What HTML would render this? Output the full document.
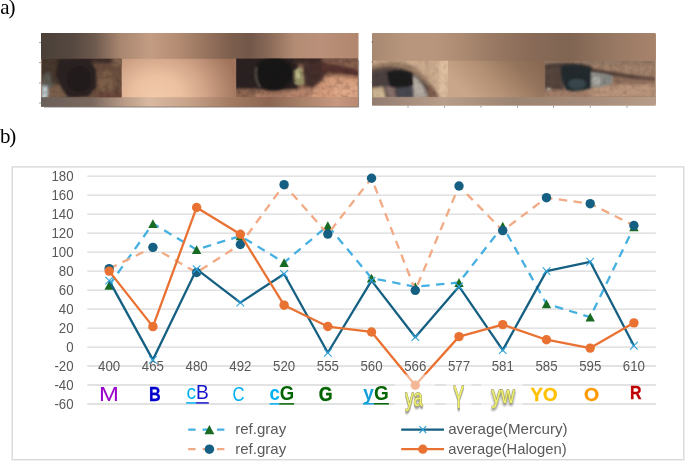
<!DOCTYPE html>
<html><head><meta charset="utf-8"><title>figure</title>
<style>
html,body{margin:0;padding:0;background:#fff;}
body{width:685px;height:461px;position:relative;overflow:hidden;}
.lab{position:absolute;left:-0.1px;letter-spacing:-1.1px;font-family:"Liberation Serif","DejaVu Serif",serif;font-size:21px;line-height:1;color:#000;white-space:nowrap;}
svg{position:absolute;left:0;top:0;}
svg text{font-family:"Liberation Sans","DejaVu Sans",sans-serif;}
</style></head><body>
<svg width="685" height="461" viewBox="0 0 685 461">
<defs>


<linearGradient id="p1top" x1="0" x2="1" y1="0" y2="0">
<stop offset="0" stop-color="#4a4038"/><stop offset="0.10" stop-color="#564840"/><stop offset="0.17" stop-color="#6e5a4e"/><stop offset="0.25" stop-color="#a8866f"/><stop offset="0.345" stop-color="#c39c83"/><stop offset="0.43" stop-color="#b48c73"/><stop offset="0.51" stop-color="#9a7660"/><stop offset="0.60" stop-color="#7c5e4c"/><stop offset="0.66" stop-color="#72584a"/><stop offset="0.72" stop-color="#8a6a58"/><stop offset="0.80" stop-color="#b48c74"/><stop offset="0.88" stop-color="#ba907a"/><stop offset="1" stop-color="#b2866e"/>
</linearGradient>
<linearGradient id="p1bot" x1="0" x2="1" y1="0" y2="0">
<stop offset="0" stop-color="#6a5f59"/><stop offset="0.16" stop-color="#7a685e"/><stop offset="0.26" stop-color="#b89a86"/><stop offset="0.34" stop-color="#d8b8a0"/><stop offset="0.46" stop-color="#c8a38a"/><stop offset="0.60" stop-color="#a27a62"/><stop offset="0.72" stop-color="#8c6652"/><stop offset="0.82" stop-color="#a88068"/><stop offset="0.93" stop-color="#c89880"/><stop offset="1" stop-color="#b88870"/>
</linearGradient>
<radialGradient id="p1mid" cx="0.31" cy="1.0" r="0.72" gradientTransform="translate(0,1) scale(1,2.6) translate(0,-1)">
<stop offset="0" stop-color="#f3cbaa"/><stop offset="0.3" stop-color="#ebc0a0"/><stop offset="0.6" stop-color="#cfa286"/><stop offset="0.85" stop-color="#b0846a"/><stop offset="1" stop-color="#a0745c"/>
</radialGradient>
<linearGradient id="p2top" x1="0" x2="1" y1="0" y2="0">
<stop offset="0" stop-color="#a88870"/><stop offset="0.12" stop-color="#b8967e"/><stop offset="0.22" stop-color="#b8957d"/><stop offset="0.32" stop-color="#ac8a72"/><stop offset="0.42" stop-color="#9a7a64"/><stop offset="0.56" stop-color="#886a57"/><stop offset="0.70" stop-color="#806553"/><stop offset="0.85" stop-color="#977862"/><stop offset="1" stop-color="#a8836c"/>
</linearGradient>
<linearGradient id="p2bot" x1="0" x2="1" y1="0" y2="0">
<stop offset="0" stop-color="#927c70"/><stop offset="0.25" stop-color="#b89e8a"/><stop offset="0.5" stop-color="#9c8472"/><stop offset="0.75" stop-color="#a48a78"/><stop offset="1" stop-color="#b89c8a"/>
</linearGradient>
<linearGradient id="p2mid" x1="0" x2="1" y1="0.35" y2="0">
<stop offset="0" stop-color="#c9a68a"/><stop offset="0.35" stop-color="#b39074"/><stop offset="0.7" stop-color="#94745c"/><stop offset="1" stop-color="#866650"/>
</linearGradient>
<filter id="b1" x="-50%" y="-50%" width="200%" height="200%"><feGaussianBlur stdDeviation="0.9"/></filter>
<filter id="b2" x="-50%" y="-50%" width="200%" height="200%"><feGaussianBlur stdDeviation="1.8"/></filter>
<linearGradient id="vlight" x1="0" x2="0" y1="0" y2="1"><stop offset="0" stop-color="#7a5038" stop-opacity="0.12"/><stop offset="1" stop-color="#fff" stop-opacity="0.06"/></linearGradient>
<filter id="b3" x="-50%" y="-50%" width="200%" height="200%"><feGaussianBlur stdDeviation="3.5"/></filter>
<filter id="grain" x="0" y="0" width="100%" height="100%" color-interpolation-filters="sRGB"><feTurbulence type="fractalNoise" baseFrequency="0.2" numOctaves="2" seed="3" result="n"/><feColorMatrix in="n" type="matrix" values="0 0 0 0 0.16  0 0 0 0 0.10  0 0 0 0 0.08  1.6 1.6 0 0 -1.35"/></filter>
<filter id="sh" x="-30%" y="-30%" width="160%" height="180%"><feGaussianBlur in="SourceAlpha" stdDeviation="1.1" result="b"/><feOffset in="b" dx="0.6" dy="1.6" result="o"/><feComponentTransfer in="o" result="s"><feFuncA type="linear" slope="0.45"/></feComponentTransfer><feMerge><feMergeNode in="s"/><feMergeNode in="SourceGraphic"/></feMerge></filter>
<clipPath id="e1"><rect x="41.8" y="58.8" width="79.8" height="38.4"/></clipPath>
<clipPath id="e2"><rect x="236.2" y="58.6" width="121.6" height="38.4"/></clipPath>
<clipPath id="e3"><rect x="372" y="60.8" width="76" height="36.4"/></clipPath>
<clipPath id="e4"><rect x="544.7" y="61" width="110.3" height="35.4"/></clipPath>
</defs>

<text transform="translate(0.3,13.75)" style="font-family:'Liberation Serif','DejaVu Serif',serif" font-size="21" letter-spacing="-1.1" fill="#000">a)</text>
<text transform="translate(-0.1,143.4)" style="font-family:'Liberation Serif','DejaVu Serif',serif" font-size="21" letter-spacing="-1.1" fill="#000">b)</text>
<g id="photo1">
<rect x="41" y="33" width="317.3" height="73.8" fill="#b08a72"/>
<rect x="41" y="33" width="317.3" height="26" fill="url(#p1top)"/>
<rect x="41" y="97" width="317.3" height="9.8" fill="url(#p1bot)"/>
<rect x="121.5" y="58.8" width="115" height="38.4" fill="url(#p1mid)"/>
<g clip-path="url(#e1)">
 <rect x="41" y="58" width="82" height="40" fill="#6b4f3f"/>
 <g filter="url(#b2)">
  <rect x="40" y="56" width="84" height="7" fill="#3c2e2b"/>
  <rect x="40" y="58" width="22" height="26" fill="#46372f"/>
  <path d="M42,76 L49,72 L54,86 L50,98 L42,98 Z" fill="#5e5c54"/>
  <rect x="40" y="86" width="7.5" height="13" fill="#c4d3d7"/>
  <path d="M48,88 L66,84 L72,98 L48,98 Z" fill="#7c604d"/>
  <ellipse cx="106" cy="82" rx="8" ry="11" fill="#7d5f4a"/>
  <rect x="112" y="57" width="12" height="9" fill="#7a5e4c"/>
  <rect x="96" y="92" width="26" height="7" fill="#6a4a3a"/>
 </g>
 <g filter="url(#b1)">
  <path d="M58.5,59 L89,58.5 L96,70 L96,87 L88.5,96 L68,97.5 L61,87 L56,74 Z" fill="#2b2123"/>
  <ellipse cx="79" cy="79" rx="12" ry="13" fill="#231b1d"/>
 </g>
 <rect x="41" y="58" width="82" height="40" filter="url(#grain)" opacity="0.22"/>
</g>
<g clip-path="url(#e2)">
 <rect x="236" y="58" width="123" height="40" fill="#8a6450"/>
 <g filter="url(#b2)">
  <rect x="234" y="56" width="64" height="32" fill="#30242520"/>
  <rect x="234" y="56" width="64" height="33" fill="#2c2122"/>
  <path d="M234,90 L252,90 L260,93 L296,92 L296,100 L234,100 Z" fill="#8c6651"/>
  <path d="M256,93 Q276,97 296,90 L330,84 L330,100 L256,100 Z" fill="#b5836a"/>
  <rect x="294" y="56" width="32" height="8" fill="#3a2927"/>
  <rect x="322" y="56" width="38" height="6.5" fill="#7c5849"/>
  <path d="M303,62 L322,62 L326,72 L322,82 L312,88 L305,86 Z" fill="#4a332f"/>
  <path d="M320,63 Q342,64 360,71 L360,77 Q340,72 322,73 Z" fill="#55332d"/>
  <path d="M326,77 Q344,75 360,78 L360,100 L310,100 L314,89 Z" fill="#d49c7c"/>
  <ellipse cx="346" cy="90" rx="14" ry="7" fill="#dfa888"/>
 </g>
 <g filter="url(#b1)">
  <ellipse cx="273.5" cy="74" rx="19.5" ry="16.5" fill="#191315"/>
  <path d="M256.5,67 Q253.5,78 260,87" stroke="#58524b" stroke-width="2" fill="none"/>
  <path d="M294,71 Q298,65 302.5,69 L304,83 Q299,87 294.5,84 Z" fill="#9a966a"/>
  <ellipse cx="298.4" cy="74.5" rx="2.2" ry="5" fill="#bcb888"/>
  <path d="M305,66v18M308.5,65v19M312,64v18M316,64v15M320,64v12" stroke="#3e2a27" stroke-width="1.6" opacity="0.7"/>
 </g>
 <rect x="236" y="58" width="123" height="40" filter="url(#grain)" opacity="0.22"/>
</g>
<path d="M39,42.6h2M39,62.6h2M39,83h2M39,103h2" stroke="#8a8a8a" stroke-width="0.8"/>
<path d="M358.6,60V107.1H44" stroke="#5a5450" stroke-width="0.8" fill="none" opacity="0.75"/>
</g>

<g id="photo2">
<rect x="372" y="33" width="283.8" height="72.4" rx="1.5" fill="#a08068"/>
<rect x="372" y="33" width="283.8" height="28" rx="1.5" fill="url(#p2top)"/>
<rect x="372" y="97" width="283.8" height="8.4" fill="url(#p2bot)"/>
<rect x="447.5" y="60.8" width="97.5" height="36.4" fill="url(#p2mid)"/>
<g clip-path="url(#e3)">
 <rect x="372" y="60" width="76" height="38" fill="#caa98d"/>
 <g filter="url(#b2)">
  <rect x="438" y="58" width="12" height="40" fill="#dcbd9e"/>
  <path d="M370,66 Q392,58 408,64 Q428,74 440,98 L370,98 Z" fill="#9a7e66"/>
  <path d="M370,70 Q394,62 412,72 Q430,84 437,98 L370,98 Z" fill="#5c4a42"/>
  <path d="M372,73 Q392,67 408,73 Q424,82 430,98 L372,98 Z" fill="#4c4140"/>
  <path d="M412,75 Q422,79 428,97 L413,98 Z" fill="#aaa299"/>
  <path d="M428,85 Q436,90 440,98 L428,98 Z" fill="#7b5b4d"/>
  <path d="M372,88 L383,87 L386,98 L372,98 Z" fill="#cdb692"/>
  <path d="M385,87 L394,86 L396,98 L388,98 Z" fill="#86706a"/>
  <path d="M396,86 L413,85 L414,98 L397,98 Z" fill="#46464f"/>
 </g>
 <g filter="url(#b1)">
  <path d="M387,72 Q400,68 412,73 L413,85 Q400,89 390,86 Z" fill="#1c1a1e"/>
  <path d="M414,78 Q420,82 424,94 L415,95 Z" fill="#b4aca2"/>
 </g>
 <rect x="372" y="60" width="76" height="38" filter="url(#grain)" opacity="0.1"/>
</g>
<g clip-path="url(#e4)">
 <rect x="544" y="60" width="112" height="38" fill="#a2826b"/>
 <g filter="url(#b2)">
  <rect x="544" y="59" width="112" height="6" fill="#937865"/>
  <rect x="544" y="90" width="60" height="8" fill="#a27e69"/>
  <path d="M590,88 L656,82 L656,98 L590,98 Z" fill="#ba957c"/>
  <path d="M544,64 Q570,60 592,66 L592,74 L544,76 Z" fill="#4b3d39"/>
  <rect x="544" y="68" width="20" height="22" fill="#54453e"/>
  <path d="M590,68 Q620,74 656,78 L656,81.5 Q620,81 592,76 Z" fill="#4a3732"/>
  <path d="M612,76 Q634,79 656,80 L656,84 Q634,85 612,84 Z" fill="#8f6e5c"/>
 </g>
 <g filter="url(#b1)">
  <path d="M561,66 Q576,62 591,68 L591,88 Q578,93 566,90 Q560,80 561,66 Z" fill="#23292d"/>
  <ellipse cx="577" cy="84" rx="9" ry="5.5" fill="#38464d"/>
  <path d="M591,72 Q604,72 613,76 L612,84 Q602,88 591,87 Z" fill="#8f908b"/>
  <ellipse cx="597" cy="80.5" rx="4" ry="5" fill="#aeaea7"/>
  <path d="M601,73v12M605,74v11M609,75v9" stroke="#5e5a56" stroke-width="1.2" opacity="0.6"/>
  <ellipse cx="548.8" cy="89.3" rx="2.4" ry="1.6" fill="#b8aa9a"/>
 </g>
 <rect x="544" y="60" width="112" height="38" filter="url(#grain)" opacity="0.14"/>
</g>
<path d="M408,106v1.6M444.5,106v1.6M481,106v1.6M517.5,106v1.6M553.5,106v1.6M590.3,106v1.6M627,106v1.6" stroke="#8a8a8a" stroke-width="0.9"/>
<path d="M371.5,42h1.5M371.5,62h1.5M371.5,82h1.5" stroke="#6a5a52" stroke-width="0.9"/>
</g>

<g id="chart">
<rect x="12.2" y="166.9" width="671.6" height="292.8" fill="#fff" stroke="#D9D9D9" stroke-width="1.4"/>

<line x1="87.3" x2="655.8" y1="404.02" y2="404.02" stroke="#D9D9D9" stroke-width="1.35"/>
<line x1="87.3" x2="655.8" y1="385.03" y2="385.03" stroke="#D9D9D9" stroke-width="1.35"/>
<line x1="87.3" x2="655.8" y1="366.04" y2="366.04" stroke="#D9D9D9" stroke-width="1.35"/>
<line x1="87.3" x2="655.8" y1="347.05" y2="347.05" stroke="#D9D9D9" stroke-width="1.35"/>
<line x1="87.3" x2="655.8" y1="328.06" y2="328.06" stroke="#D9D9D9" stroke-width="1.35"/>
<line x1="87.3" x2="655.8" y1="309.07" y2="309.07" stroke="#D9D9D9" stroke-width="1.35"/>
<line x1="87.3" x2="655.8" y1="290.08" y2="290.08" stroke="#D9D9D9" stroke-width="1.35"/>
<line x1="87.3" x2="655.8" y1="271.09" y2="271.09" stroke="#D9D9D9" stroke-width="1.35"/>
<line x1="87.3" x2="655.8" y1="252.10" y2="252.10" stroke="#D9D9D9" stroke-width="1.35"/>
<line x1="87.3" x2="655.8" y1="233.11" y2="233.11" stroke="#D9D9D9" stroke-width="1.35"/>
<line x1="87.3" x2="655.8" y1="214.12" y2="214.12" stroke="#D9D9D9" stroke-width="1.35"/>
<line x1="87.3" x2="655.8" y1="195.13" y2="195.13" stroke="#D9D9D9" stroke-width="1.35"/>
<line x1="87.3" x2="655.8" y1="176.14" y2="176.14" stroke="#D9D9D9" stroke-width="1.35"/>
<text transform="translate(73.6,408.82) scale(0.935,1)" text-anchor="end" font-size="14.2" fill="#595959">-60</text>
<text transform="translate(73.6,389.83) scale(0.935,1)" text-anchor="end" font-size="14.2" fill="#595959">-40</text>
<text transform="translate(73.6,370.84) scale(0.935,1)" text-anchor="end" font-size="14.2" fill="#595959">-20</text>
<text transform="translate(73.6,351.85) scale(0.935,1)" text-anchor="end" font-size="14.2" fill="#595959">0</text>
<text transform="translate(73.6,332.86) scale(0.935,1)" text-anchor="end" font-size="14.2" fill="#595959">20</text>
<text transform="translate(73.6,313.87) scale(0.935,1)" text-anchor="end" font-size="14.2" fill="#595959">40</text>
<text transform="translate(73.6,294.88) scale(0.935,1)" text-anchor="end" font-size="14.2" fill="#595959">60</text>
<text transform="translate(73.6,275.89) scale(0.935,1)" text-anchor="end" font-size="14.2" fill="#595959">80</text>
<text transform="translate(73.6,256.90) scale(0.935,1)" text-anchor="end" font-size="14.2" fill="#595959">100</text>
<text transform="translate(73.6,237.91) scale(0.935,1)" text-anchor="end" font-size="14.2" fill="#595959">120</text>
<text transform="translate(73.6,218.92) scale(0.935,1)" text-anchor="end" font-size="14.2" fill="#595959">140</text>
<text transform="translate(73.6,199.93) scale(0.935,1)" text-anchor="end" font-size="14.2" fill="#595959">160</text>
<text transform="translate(73.6,180.94) scale(0.935,1)" text-anchor="end" font-size="14.2" fill="#595959">180</text>
<text transform="translate(109.17,370.64) scale(0.935,1)" text-anchor="middle" font-size="14.2" fill="#595959">400</text>
<text transform="translate(152.90,370.64) scale(0.935,1)" text-anchor="middle" font-size="14.2" fill="#595959">465</text>
<text transform="translate(196.63,370.64) scale(0.935,1)" text-anchor="middle" font-size="14.2" fill="#595959">480</text>
<text transform="translate(240.36,370.64) scale(0.935,1)" text-anchor="middle" font-size="14.2" fill="#595959">492</text>
<text transform="translate(284.09,370.64) scale(0.935,1)" text-anchor="middle" font-size="14.2" fill="#595959">520</text>
<text transform="translate(327.82,370.64) scale(0.935,1)" text-anchor="middle" font-size="14.2" fill="#595959">555</text>
<text transform="translate(371.55,370.64) scale(0.935,1)" text-anchor="middle" font-size="14.2" fill="#595959">560</text>
<text transform="translate(415.28,370.64) scale(0.935,1)" text-anchor="middle" font-size="14.2" fill="#595959">566</text>
<text transform="translate(459.01,370.64) scale(0.935,1)" text-anchor="middle" font-size="14.2" fill="#595959">577</text>
<text transform="translate(502.74,370.64) scale(0.935,1)" text-anchor="middle" font-size="14.2" fill="#595959">581</text>
<text transform="translate(546.47,370.64) scale(0.935,1)" text-anchor="middle" font-size="14.2" fill="#595959">585</text>
<text transform="translate(590.20,370.64) scale(0.935,1)" text-anchor="middle" font-size="14.2" fill="#595959">595</text>
<text transform="translate(633.93,370.64) scale(0.935,1)" text-anchor="middle" font-size="14.2" fill="#595959">610</text>
<polyline points="109.17,285.33 152.90,223.62 196.63,249.63 240.36,235.96 284.09,262.54 327.82,225.70 371.55,278.12 415.28,286.76 459.01,282.48 502.74,226.18 546.47,303.85 590.20,317.14 633.93,226.94" fill="none" stroke="#45B0E1" stroke-width="2.3" stroke-dasharray="8.4 6.4"/>
<polygon points="109.17,280.93 113.87,289.73 104.47,289.73" fill="#196B24"/>
<polygon points="152.90,219.22 157.60,228.02 148.20,228.02" fill="#196B24"/>
<polygon points="196.63,245.23 201.33,254.03 191.93,254.03" fill="#196B24"/>
<polygon points="240.36,231.56 245.06,240.36 235.66,240.36" fill="#196B24"/>
<polygon points="284.09,258.14 288.79,266.94 279.39,266.94" fill="#196B24"/>
<polygon points="327.82,221.30 332.52,230.10 323.12,230.10" fill="#196B24"/>
<polygon points="371.55,273.72 376.25,282.52 366.85,282.52" fill="#196B24"/>
<polygon points="415.28,282.36 419.98,291.16 410.58,291.16" fill="#196B24"/>
<polygon points="459.01,278.08 463.71,286.88 454.31,286.88" fill="#196B24"/>
<polygon points="502.74,221.78 507.44,230.58 498.04,230.58" fill="#196B24"/>
<polygon points="546.47,299.45 551.17,308.25 541.77,308.25" fill="#196B24"/>
<polygon points="590.20,312.74 594.90,321.54 585.50,321.54" fill="#196B24"/>
<polygon points="633.93,222.54 638.63,231.34 629.23,231.34" fill="#196B24"/>
<polyline points="109.17,268.62 152.90,247.35 196.63,272.51 240.36,244.50 284.09,184.69 327.82,234.06 371.55,178.23 415.28,290.36 459.01,186.01 502.74,230.64 546.47,197.69 590.20,203.68 633.93,225.51" fill="none" stroke="#F2AA84" stroke-width="2.3" stroke-dasharray="8.4 6.4"/>
<circle cx="109.17" cy="268.62" r="4.7" fill="#156082"/>
<circle cx="152.90" cy="247.35" r="4.7" fill="#156082"/>
<circle cx="196.63" cy="272.51" r="4.7" fill="#156082"/>
<circle cx="240.36" cy="244.50" r="4.7" fill="#156082"/>
<circle cx="284.09" cy="184.69" r="4.7" fill="#156082"/>
<circle cx="327.82" cy="234.06" r="4.7" fill="#156082"/>
<circle cx="371.55" cy="178.23" r="4.7" fill="#156082"/>
<circle cx="415.28" cy="290.36" r="4.7" fill="#156082"/>
<circle cx="459.01" cy="186.01" r="4.7" fill="#156082"/>
<circle cx="502.74" cy="230.64" r="4.7" fill="#156082"/>
<circle cx="546.47" cy="197.69" r="4.7" fill="#156082"/>
<circle cx="590.20" cy="203.68" r="4.7" fill="#156082"/>
<circle cx="633.93" cy="225.51" r="4.7" fill="#156082"/>
<polyline points="109.17,280.59 152.90,359.87 196.63,269.19 240.36,302.61 284.09,273.94 327.82,352.75 371.55,280.59 415.28,337.18 459.01,286.47 502.74,350.18 546.47,271.09 590.20,261.78 633.93,345.72" fill="none" stroke="#156082" stroke-width="2.3" stroke-linejoin="round"/>
<path d="M105.37,276.79L112.97,284.39M105.37,284.39L112.97,276.79" stroke="#2FA3DB" stroke-width="1.1" fill="none"/>
<path d="M149.10,356.07L156.70,363.67M149.10,363.67L156.70,356.07" stroke="#2FA3DB" stroke-width="1.1" fill="none"/>
<path d="M192.83,265.39L200.43,272.99M192.83,272.99L200.43,265.39" stroke="#2FA3DB" stroke-width="1.1" fill="none"/>
<path d="M236.56,298.81L244.16,306.41M236.56,306.41L244.16,298.81" stroke="#2FA3DB" stroke-width="1.1" fill="none"/>
<path d="M280.29,270.14L287.89,277.74M280.29,277.74L287.89,270.14" stroke="#2FA3DB" stroke-width="1.1" fill="none"/>
<path d="M324.02,348.95L331.62,356.55M324.02,356.55L331.62,348.95" stroke="#2FA3DB" stroke-width="1.1" fill="none"/>
<path d="M367.75,276.79L375.35,284.39M367.75,284.39L375.35,276.79" stroke="#2FA3DB" stroke-width="1.1" fill="none"/>
<path d="M411.48,333.38L419.08,340.98M411.48,340.98L419.08,333.38" stroke="#2FA3DB" stroke-width="1.1" fill="none"/>
<path d="M455.21,282.67L462.81,290.27M455.21,290.27L462.81,282.67" stroke="#2FA3DB" stroke-width="1.1" fill="none"/>
<path d="M498.94,346.38L506.54,353.98M498.94,353.98L506.54,346.38" stroke="#2FA3DB" stroke-width="1.1" fill="none"/>
<path d="M542.67,267.29L550.27,274.89M542.67,274.89L550.27,267.29" stroke="#2FA3DB" stroke-width="1.1" fill="none"/>
<path d="M586.40,257.98L594.00,265.58M586.40,265.58L594.00,257.98" stroke="#2FA3DB" stroke-width="1.1" fill="none"/>
<path d="M630.13,341.92L637.73,349.52M630.13,349.52L637.73,341.92" stroke="#2FA3DB" stroke-width="1.1" fill="none"/>
<polyline points="109.17,271.09 152.90,326.64 196.63,207.47 240.36,234.25 284.09,305.18 327.82,326.54 371.55,331.95 415.28,385.22 459.01,336.61 502.74,324.64 546.47,339.74 590.20,348.09 633.93,322.84" fill="none" stroke="#E97132" stroke-width="2.3" stroke-linejoin="round"/>
<circle cx="109.17" cy="271.09" r="4.7" fill="#E97132"/>
<circle cx="152.90" cy="326.64" r="4.7" fill="#E97132"/>
<circle cx="196.63" cy="207.47" r="4.7" fill="#E97132"/>
<circle cx="240.36" cy="234.25" r="4.7" fill="#E97132"/>
<circle cx="284.09" cy="305.18" r="4.7" fill="#E97132"/>
<circle cx="327.82" cy="326.54" r="4.7" fill="#E97132"/>
<circle cx="371.55" cy="331.95" r="4.7" fill="#E97132"/>
<circle cx="415.28" cy="385.22" r="4.7" fill="#E97132"/>
<circle cx="459.01" cy="336.61" r="4.7" fill="#E97132"/>
<circle cx="502.74" cy="324.64" r="4.7" fill="#E97132"/>
<circle cx="546.47" cy="339.74" r="4.7" fill="#E97132"/>
<circle cx="590.20" cy="348.09" r="4.7" fill="#E97132"/>
<circle cx="633.93" cy="322.84" r="4.7" fill="#E97132"/>
<rect x="394.8" y="374.5" width="40.2" height="40" fill="#fff" opacity="0.5"/>
<rect x="446" y="374.5" width="25.5" height="40" fill="#fff" opacity="0.55"/>
<rect x="481" y="374.5" width="41.5" height="40" fill="#fff" opacity="0.55"/>
<text transform="translate(99.08,401.15) scale(1.187,1)" font-size="20.07" font-weight="normal" fill="#9A00CC">M</text>
<text transform="translate(149.00,401.00) scale(0.839,1)" font-size="19.35" font-weight="bold" fill="#0000CC" stroke="#0000CC" stroke-width="0.35">B</text>
<text transform="translate(186.44,398.84) scale(0.926,1)" font-size="20.65" font-weight="normal"><tspan fill="#00B0F0">c</tspan><tspan fill="#1414CC">B</tspan></text>
<path d="M186.1,402.9H196.1" stroke="#00B0F0" stroke-width="1.5"/><path d="M196.1,402.9H208.8" stroke="#1414CC" stroke-width="1.5"/>
<text transform="translate(232.52,401.44) scale(0.809,1)" font-size="20.64" font-weight="normal" fill="#00B0F0">C</text>
<text transform="translate(269.41,399.74) scale(0.896,1)" font-size="20.78" font-weight="bold"><tspan fill="#00B0F0">c</tspan><tspan fill="#006400">G</tspan></text>
<path d="M269.6,403.9H279.2" stroke="#00B0F0" stroke-width="1.5"/><path d="M279.2,403.9H294.1" stroke="#006400" stroke-width="1.5"/>
<text transform="translate(318.69,401.30) scale(0.898,1)" font-size="19.79" font-weight="bold" fill="#006400" stroke="#006400" stroke-width="0.35">G</text>
<text transform="translate(363.31,399.55) scale(0.947,1)" font-size="20.07" font-weight="bold"><tspan fill="#129FDB">y</tspan><tspan fill="#006400">G</tspan></text>
<path d="M362.9,403.8H373.9" stroke="#129FDB" stroke-width="1.5"/><path d="M373.9,403.8H388.9" stroke="#006400" stroke-width="1.5"/>
<text transform="translate(405.16,406.35) scale(0.668,1)" font-size="24.84" font-weight="normal" fill="#EFEF70" stroke="#9C9C5E" stroke-width="1.3" stroke-linejoin="round" paint-order="stroke" filter="url(#sh)">ya</text>
<text transform="translate(453.13,408.20) scale(0.526,1)" font-size="31.13" font-weight="normal" fill="#EFEF70" stroke="#9C9C5E" stroke-width="1.3" stroke-linejoin="round" paint-order="stroke" filter="url(#sh)">Y</text>
<text transform="translate(491.55,402.90) scale(0.804,1)" font-size="23.70" font-weight="normal" fill="#EFEF70" stroke="#9C9C5E" stroke-width="1.3" stroke-linejoin="round" paint-order="stroke" filter="url(#sh)">yw</text>
<text transform="translate(530.47,401.11) scale(0.984,1)" font-size="18.94" font-weight="bold" fill="#FFC000" stroke="#FFC000" stroke-width="0.35">YO</text>
<text transform="translate(584.12,401.11) scale(1.026,1)" font-size="18.94" font-weight="bold" fill="#FF9900" stroke="#FF9900" stroke-width="0.35">O</text>
<text transform="translate(629.92,399.40) scale(0.844,1)" font-size="18.91" font-weight="bold" fill="#C00000" stroke="#C00000" stroke-width="0.35">R</text>
<line x1="188.2" x2="225.2" y1="429.6" y2="429.6" stroke="#45B0E1" stroke-width="2.3" stroke-dasharray="7.4 7"/>
<polygon points="209.40,425.10 214.30,434.30 204.50,434.30" fill="#196B24"/>
<line x1="188.2" x2="225.2" y1="449.2" y2="449.2" stroke="#F2AA84" stroke-width="2.3" stroke-dasharray="7.4 7"/>
<circle cx="209.40" cy="449.20" r="4.75" fill="#156082"/>
<text x="235.2" y="434.20000000000005" font-size="14.6" fill="#595959" textLength="51" lengthAdjust="spacingAndGlyphs">ref.gray</text>
<text x="235.2" y="453.8" font-size="14.6" fill="#595959" textLength="51" lengthAdjust="spacingAndGlyphs">ref.gray</text>
<line x1="401.2" x2="444" y1="429.6" y2="429.6" stroke="#156082" stroke-width="2.3"/>
<path d="M419.40,426.20L426.20,433.00M419.40,433.00L426.20,426.20" stroke="#2FA3DB" stroke-width="1.1" fill="none"/>
<line x1="401.2" x2="444" y1="449.2" y2="449.2" stroke="#E97132" stroke-width="2.3"/>
<circle cx="422.80" cy="449.20" r="4.6" fill="#E97132"/>
<text x="448.2" y="434.20000000000005" font-size="14.6" fill="#595959" textLength="119.4" lengthAdjust="spacingAndGlyphs">average(Mercury)</text>
<text x="448.2" y="453.8" font-size="14.6" fill="#595959" textLength="118.4" lengthAdjust="spacingAndGlyphs">average(Halogen)</text>
</g>
</svg>
</body></html>
